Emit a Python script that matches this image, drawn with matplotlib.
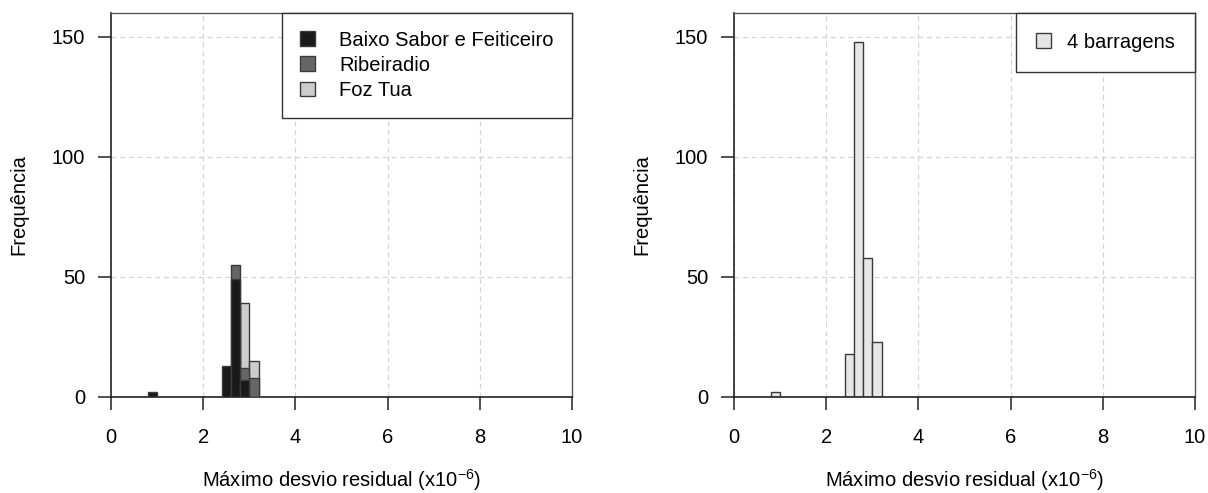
import numpy as np
import matplotlib
matplotlib.use("Agg")
import matplotlib.pyplot as plt
from matplotlib.patches import Patch

plt.rcParams["font.family"] = ["Liberation Sans", "DejaVu Sans"]
plt.rcParams["mathtext.fontset"] = "custom"
plt.rcParams["mathtext.rm"] = "Liberation Sans"
plt.rcParams["mathtext.it"] = "Liberation Sans"

# bins (x10^-6), width 0.2
bin_left = [0.8, 2.4, 2.6, 2.8, 3.0]
bin_width = 0.2

# left panel: overlaid histograms
baixo_sabor = [2, 13, 49, 7, 0]
ribeiradio = [0, 0, 55, 12, 8]
foz_tua = [0, 0, 0, 39, 15]

# right panel: all 4 dams
quatro_barragens = [2, 18, 148, 58, 23]

x_ticks = [0, 2, 4, 6, 8, 10]
y_ticks = [0, 50, 100, 150]

fig = plt.figure(figsize=(12.08, 4.93), dpi=100)
ax1 = fig.add_axes([111 / 1208, 96 / 493, 461 / 1208, 384.3 / 493])
ax2 = fig.add_axes([734 / 1208, 96 / 493, 461 / 1208, 384.3 / 493])

edge = "#3a3a3a"
fs = 14.5


def style_axes(ax):
    ax.set_xlim(0, 10)
    ax.set_ylim(0, 160)
    ax.set_xticks(x_ticks)
    ax.set_yticks(y_ticks)
    ax.grid(True, color="#d4d4d4", linestyle=(0, (4, 3)), linewidth=0.9)
    ax.set_axisbelow(True)
    for s in ["left", "bottom"]:
        ax.spines[s].set_color("#222222")
        ax.spines[s].set_linewidth(1.2)
    for s in ["top", "right"]:
        ax.spines[s].set_color("#555555")
        ax.spines[s].set_linewidth(1.0)
    ax.tick_params(direction="out", length=9.5, width=1.1, color="#222222",
                   labelsize=fs, pad=9)
    ax.tick_params(axis="x", pad=13)
    ax.set_xlabel(r"Máximo desvio residual (x10$^{-6}$)", fontsize=fs, labelpad=14)
    ax.set_ylabel("Frequência", fontsize=fs, labelpad=17)


# left panel
ax1.bar(bin_left, foz_tua, width=bin_width, align="edge",
        color="#cccccc", edgecolor=edge, linewidth=1.0, zorder=2)
ax1.bar(bin_left, ribeiradio, width=bin_width, align="edge",
        color="#666666", edgecolor=edge, linewidth=1.0, zorder=3)
ax1.bar(bin_left, baixo_sabor, width=bin_width, align="edge",
        color="#1a1a1a", edgecolor=edge, linewidth=1.0, zorder=4)
style_axes(ax1)
handles = [Patch(facecolor="#1a1a1a", edgecolor=edge),
           Patch(facecolor="#666666", edgecolor=edge),
           Patch(facecolor="#cccccc", edgecolor=edge)]
leg = ax1.legend(handles, ["Baixo Sabor e Feiticeiro", "Ribeiradio", "Foz Tua"],
                 loc="upper right", borderaxespad=0, fontsize=fs,
                 fancybox=False, framealpha=1, edgecolor="#333333",
                 handlelength=0.75, handleheight=0.75, handletextpad=1.2,
                 borderpad=0.9, labelspacing=0.3)
leg.get_frame().set_linewidth(1.0)

# right panel
ax2.bar(bin_left, quatro_barragens, width=bin_width, align="edge",
        color="#e6e6e6", edgecolor=edge, linewidth=1.0, zorder=2)
style_axes(ax2)
leg2 = ax2.legend([Patch(facecolor="#e6e6e6", edgecolor=edge)], ["4 barragens"],
                  loc="upper right", borderaxespad=0, fontsize=fs,
                  fancybox=False, framealpha=1, edgecolor="#333333",
                  handlelength=0.75, handleheight=0.75, handletextpad=0.8,
                  borderpad=1.0)
leg2.get_frame().set_linewidth(1.0)

fig.savefig("out.png", dpi=100)
plt.close(fig)
